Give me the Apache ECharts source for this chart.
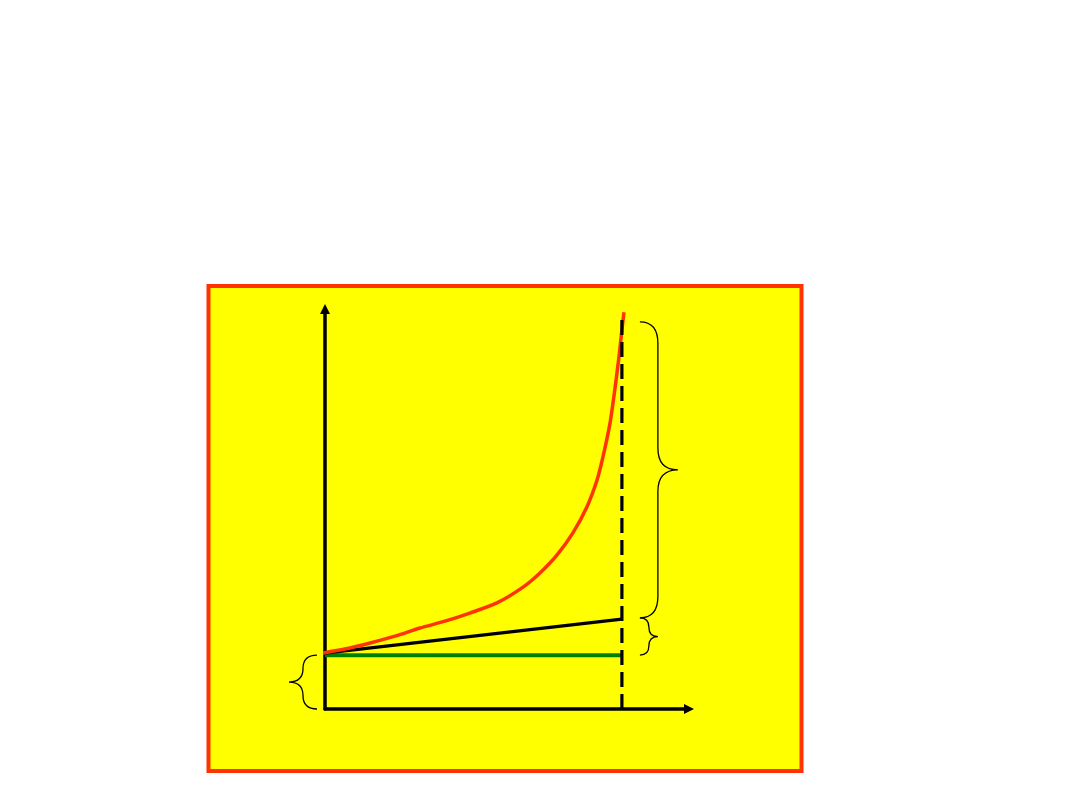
<!DOCTYPE html>
<html>
<head>
<meta charset="utf-8">
<title>chart</title>
<script src="https://cdn.jsdelivr.net/npm/echarts@6/dist/echarts.min.js"></script>
<style>
  html,body{margin:0;padding:0;background:#fff;}
  #main{width:1080px;height:810px;}
</style>
</head>
<body>
<div id="main"></div>
<script>
// curve (red): rises slowly then shoots up near the dashed limit
var redX = [-1, 6.7, 15.2, 23.6, 32.0, 40.4, 48.8, 57.9, 66.7, 72.4, 78.1, 83.5, 88.2, 91.6, 93.6, 96.0, 97.6, 99.0, 100.0, 100.7];
var redY = [13.8, 14.8, 16.3, 18.0, 20.0, 21.7, 23.7, 26.2, 30.1, 33.6, 38.0, 43.5, 49.9, 56.5, 62.2, 70.6, 78.8, 86.9, 93.6, 98.0];
// straight black line
var blackX = [0, 100];
var blackY = [13.8, 22.2];
// flat green line
var greenX = [0, 100];
var greenY = [13.3, 13.3];
// dashed vertical limit
var limitX = [100, 100];
var limitY = [0, 97.5];
// braces: anchor x, low y, high y, direction (-1 left, 1 right)
var braceX = [0, 100, 100];
var braceLow = [0, 22.5, 13.3];
var braceHigh = [13.3, 95.6, 22.5];
var braceDir = [-1, 1, 1];

function pairs(xs, ys){
	var out = [];
	for(var i = 0;i < xs.length;i ++){
		out.push([xs[i], ys[i]]);
	}
	return out;
}

var braceData = [];
for(var i = 0;i < braceX.length;i ++){
	braceData.push([braceX[i], braceLow[i], braceHigh[i], braceDir[i]]);
}

// gap to the ends, spine offset, tip offset (px) per brace
var braceSize = [[8, 22, 36], [18, 36, 56], [18, 27, 36]];

function renderBrace(params, api){
	var x = api.value(0), lo = api.value(1), hi = api.value(2), dir = api.value(3);
	var pTop = api.coord([x, hi]);
	var pBot = api.coord([x, lo]);
	var sz = braceSize[params.dataIndex];
	var px = pTop[0];
	var e = px + dir*sz[0], s = px + dir*sz[1], t = px + dir*sz[2];
	var top = pTop[1], bot = pBot[1], m = (top + bot)/2;
	var r = Math.min(Math.abs(sz[1]-sz[0])*1.2, (m-top)/2);
	var d = 'M' + e + ',' + top +
		' Q' + s + ',' + top + ' ' + s + ',' + (top + r) +
		' L' + s + ',' + (m - r) +
		' Q' + s + ',' + m + ' ' + t + ',' + m +
		' Q' + s + ',' + m + ' ' + s + ',' + (m + r) +
		' L' + s + ',' + (bot - r) +
		' Q' + s + ',' + bot + ' ' + e + ',' + bot;
	return {
		type:'path',
		shape:{pathData:d},
		style:{stroke:'#000', fill:'none', lineWidth:1.3}
	};
}

var mychart = echarts.init(document.getElementById("main"));
mychart.setOption({
	backgroundColor:'#fff',
	animation:false,
	graphic:[
		{
			type:'rect',
			z:0,
			shape:{x:208.5, y:286, width:593, height:485},
			style:{fill:'#FFFF00', stroke:'#FF3300', lineWidth:4}
		}
	],
	grid:{
		left:325,
		top:309,
		width:364,
		height:400
	},
	xAxis:{
		type:'value',
		min:0,
		max:122.6,
		splitLine:{show:false},
		axisTick:{show:false},
		axisLabel:{show:false},
		axisLine:{
			symbol:['none','triangle'],
			symbolSize:[10,10],
			lineStyle:{color:'#000', width:3.5}
		}
	},
	yAxis:{
		type:'value',
		min:0,
		max:98.8,
		splitLine:{show:false},
		axisTick:{show:false},
		axisLabel:{show:false},
		axisLine:{
			symbol:['none','triangle'],
			symbolSize:[10,10],
			lineStyle:{color:'#000', width:3.5}
		}
	},
	series:[
		{
			type:'line',
			data:pairs(greenX, greenY),
			symbol:'none',
			lineStyle:{color:'#008000', width:4},
			z:3
		},
		{
			type:'line',
			data:pairs(blackX, blackY),
			symbol:'none',
			lineStyle:{color:'#000', width:3.2},
			z:4
		},
		{
			type:'line',
			data:pairs(redX, redY),
			symbol:'none',
			smooth:0.25,
			clip:false,
			lineStyle:{color:'#FF3300', width:3.5},
			z:5
		},
		{
			type:'line',
			data:pairs(limitX, limitY),
			symbol:'none',
			lineStyle:{color:'#000', width:3.2, type:[15,7]},
			z:6
		},
		{
			type:'custom',
			data:braceData,
			clip:false,
			renderItem:renderBrace,
			z:6
		}
	]
});
</script>
</body>
</html>
